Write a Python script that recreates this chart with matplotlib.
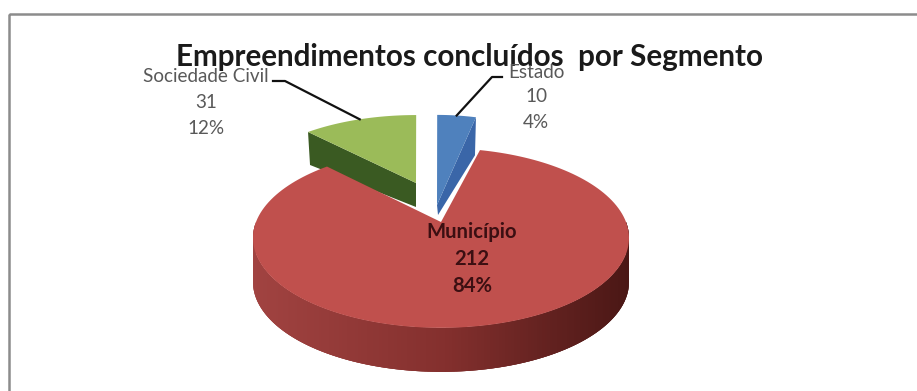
import numpy as np
import matplotlib
matplotlib.use("Agg")
import matplotlib.pyplot as plt
from matplotlib.colors import to_rgb
from matplotlib.patches import Polygon, Rectangle

# Completed projects by segment
categories = ["Estado", "Município", "Sociedade Civil"]
counts = [10, 212, 31]
percent_labels = ["4%", "84%", "12%"]
title = "Empreendimentos concluídos  por Segmento"

TOP_COLORS = {"Estado": "#4f81bd", "Município": "#c0504d", "Sociedade Civil": "#9bbb59"}
WALL_COLORS = {"Estado": "#3a66a8", "Sociedade Civil": "#3a5a22"}

FONT = ["Lato", "DejaVu Sans"]
W, H = 917, 391
fig = plt.figure(figsize=(W / 100, H / 100), dpi=100)
ax = fig.add_axes([0, 0, 1, 1])
ax.set_xlim(0, W)
ax.set_ylim(H, 0)
ax.axis("off")

# Only the top and left edges of the chart frame fall inside the canvas
ax.add_patch(Rectangle((8.5, 13.5), 950, 420, fill=False, ec="#8c8c8c", lw=1.8, clip_on=True))

# Perspective projection of the pie disc
RADIUS = 185.0
TILT = 87.0
PERSP = 0.178
DEPTH = 44.0
START = 75.7


def project(theta_deg, cx, cy, sx=1.0, sy=1.0):
    t = np.radians(theta_deg)
    d = 1 + PERSP * np.sin(t)
    return cx + sx * RADIUS * np.cos(t) / d, cy - sy * TILT * np.sin(t) / d


def arc(a0, a1, cx, cy, sx=1.0, sy=1.0, n=160):
    x, y = project(np.linspace(a0, a1, n), cx, cy, sx, sy)
    return np.column_stack([x, y])


total = sum(counts)
sweep = {c: v / total * 360 for c, v in zip(categories, counts)}
est0 = START
est1 = est0 + sweep["Estado"]
soc0 = est1
soc1 = soc0 + sweep["Sociedade Civil"]
mun0 = soc1
mun1 = mun0 + sweep["Município"]


def lerp(c0, c1, f):
    a, b = np.array(to_rgb(c0)), np.array(to_rgb(c1))
    return tuple(a + (b - a) * f)


# Município: curved outer wall shaded left to right, then the top face.
# Each strip overlaps the next so no seams show between them.
mc = (441, 222)
edge = arc(max(mun0, 180), min(mun1, 360), *mc, n=220)
xmin, xmax = edge[:, 0].min(), edge[:, 0].max()
for i in range(len(edge) - 1):
    p = edge[i]
    q = edge[min(i + 3, len(edge) - 1)]
    f = (p[0] - xmin) / (xmax - xmin)
    if f < 0.5:
        col = lerp("#a14341", "#84302e", f / 0.5)
    else:
        col = lerp("#84302e", "#4a1715", (f - 0.5) / 0.5)
    ax.add_patch(Polygon([p, q, q + [0, DEPTH], p + [0, DEPTH]], fc=col, ec="none"))
ax.add_patch(Polygon(np.vstack([[mc], arc(mun0, mun1, *mc)]), fc=TOP_COLORS["Município"], ec="none"))

# Sociedade Civil: straight wall in front, then the top face
gc = (416, 183)
gs = dict(sx=0.947, sy=0.92)
g_left = np.array(project(soc1, *gc, **gs))
ax.add_patch(Polygon([g_left, gc, (gc[0], gc[1] + 24), (g_left[0] + 2, g_left[1] + 33)],
                     fc=WALL_COLORS["Sociedade Civil"], ec="none", zorder=0.9))
ax.add_patch(Polygon(np.vstack([[gc], arc(soc0, soc1, *gc, **gs)]),
                     fc=TOP_COLORS["Sociedade Civil"], ec="none"))

# Estado: wall on its right side, then the top face
bc = (437, 205)
bs = dict(sx=1.0, sy=1.22)
b_right = np.array(project(est0, *bc, **bs))
ax.add_patch(Polygon([b_right, bc, (bc[0] + 1, bc[1] + 10), (b_right[0] - 1, b_right[1] + 38)],
                     fc=WALL_COLORS["Estado"], ec="none"))
ax.add_patch(Polygon(np.vstack([[bc], arc(est0, est1, *bc, **bs)]),
                     fc=TOP_COLORS["Estado"], ec="none"))

# Leader lines run from each label's elbow to its slice's outer edge
soc_anchor = project((soc0 + soc1) / 2, *gc, **gs)
ax.plot([273, 285, soc_anchor[0]], [81, 81, soc_anchor[1]], color="#111111", lw=1.6)
est_anchor = project((est0 + est1) / 2, *bc, **bs)
ax.plot([502, 492, est_anchor[0]], [77, 77, est_anchor[1]], color="#111111", lw=1.6)

ax.text(470, 57, title, ha="center", va="center", fontsize=21.3, fontweight="bold",
        color="#1a1a1a", family=FONT)

idx = {c: i for i, c in enumerate(categories)}


def label(cat, x, ys, color, weight="normal", size=13.6):
    i = idx[cat]
    for y, s in zip(ys, [cat, str(counts[i]), percent_labels[i]]):
        ax.text(x, y, s, ha="center", va="center", fontsize=size, color=color,
                fontweight=weight, family=FONT)


label("Sociedade Civil", 206, (76, 103, 129), "#595959")
label("Estado", 536, (72, 97, 123), "#595959")
label("Município", 472, (232, 259, 286), "#3b0f12", weight="bold", size=14.6)

fig.savefig("out.png", dpi=100)
